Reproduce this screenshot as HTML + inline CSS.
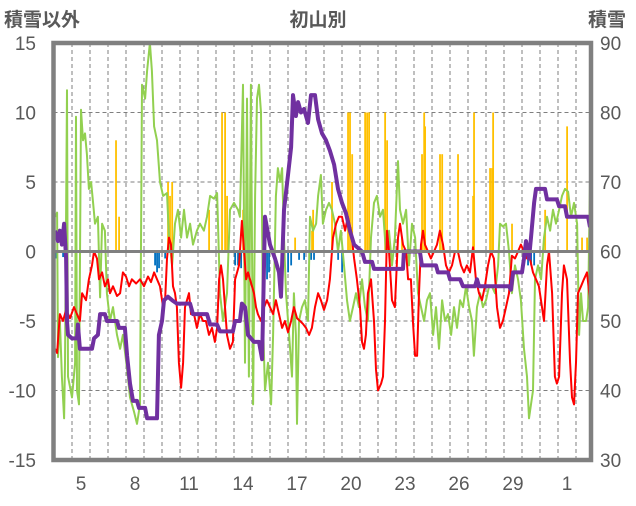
<!DOCTYPE html>
<html><head><meta charset="utf-8"><style>
html,body{margin:0;padding:0;background:#fff;}
svg text{font-family:"Liberation Sans","Noto Sans CJK JP",sans-serif;fill:#595959;}
</style></head><body>
<svg id="chart" width="636" height="501" viewBox="0 0 636 501" xmlns="http://www.w3.org/2000/svg">
<text x="4" y="26" font-size="19" font-weight="bold">積雪以外</text>
<text x="318" y="26" font-size="19" font-weight="bold" text-anchor="middle">初山別</text>
<text x="588" y="26" font-size="19" font-weight="bold">積雪</text>
<g id="grid"></g>
<g id="bars"></g>
<g id="lines"></g>
<g id="axes"></g>
</svg>
<script>
const leftTicks=[15,10,5,0,-5,-10,-15];
const rightTicks=[90,80,70,60,50,40,30];
const xTickDays=[5,8,11,14,17,20,23,26,29,32];
const xTickLabels=["5","8","11","14","17","20","23","26","29","1"];
const greenT=[4.06,4.17,4.22,4.33,4.44,4.56,4.61,4.72,4.78,5.0,5.17,5.22,5.28,5.39,5.5,5.61,5.72,5.83,5.94,6.06,6.17,6.28,6.44,6.56,6.67,6.83,6.94,7.11,7.28,7.5,7.67,7.83,8.06,8.22,8.44,8.61,8.78,8.89,9.06,9.17,9.33,9.44,9.56,9.72,9.89,10.06,10.28,10.39,10.56,10.72,10.89,11.06,11.22,11.39,11.56,11.72,11.94,12.11,12.33,12.5,12.67,12.89,13.06,13.22,13.39,13.61,13.78,14.0,14.22,14.33,14.5,14.61,14.72,14.83,14.94,15.06,15.17,15.28,15.39,15.5,15.61,15.72,15.89,16.06,16.17,16.33,16.44,16.56,16.67,16.78,16.89,17.06,17.22,17.33,17.44,17.5,17.61,17.78,17.94,18.11,18.22,18.39,18.56,18.67,18.83,18.94,19.11,19.28,19.44,19.61,19.78,19.94,20.11,20.28,20.44,20.61,20.78,20.94,21.11,21.28,21.44,21.61,21.78,21.94,22.11,22.28,22.44,22.61,22.78,22.94,23.11,23.22,23.39,23.56,23.72,23.89,24.06,24.22,24.39,24.56,24.72,24.89,25.06,25.22,25.39,25.56,25.72,25.89,26.06,26.22,26.39,26.56,26.72,26.89,27.06,27.22,27.33,27.5,27.67,27.83,28.0,28.17,28.33,28.5,28.67,28.78,28.94,29.11,29.28,29.44,29.61,29.78,29.94,30.11,30.28,30.39,30.5,30.61,30.72,30.89,31.06,31.22,31.39,31.56,31.72,31.89,32.06,32.22,32.39,32.56,32.72,32.89,33.06,33.17,33.28,33.39,33.56,33.67,33.78];
const greenV=[2.5,2.8,-7.6,-5,-9,-12,-8,11.6,-9,-10.5,-8,9.7,-10,-11,10.2,8,8.5,7,4.5,5,3.5,2,2.5,-3.3,2,1.5,-3,-5,-4,-6,-7,-6,-8.5,-10.5,-11.5,-12.4,-11,12,11,13,15,13,9,8,5,4,4.2,1,-1,2,3,1,3,1,2,0.5,1.5,2,1.5,2.5,4,3.8,4.2,-3,-5,-3,3,3.5,3,2.5,12,-8,11,-9,12,-11,4,11,12,10,-5,-10,-8,-11,-6,4,6,5,6,1,-3,-6,-9,-3,-6,-12.4,-5,-4,-3.5,-5,2.5,1.5,2,4,5.5,2,3,3.5,3,2,0,1.5,-1,-3.5,-5,-4,-3,-4,-2,-4,-5,1,3.5,4,2.5,3,0,1.5,-1,1,6.5,3,2,3,-1,2,1,-3,-4,-5,-3.5,-3,-6,-4,-7,-3.5,-5,-4.5,-6,-4,-5.5,-3.5,-4,-2.5,-4,-5,-7.5,-4,-3,-4,-3.5,-2.5,-2.5,-3,-1,2,1.8,2,0,-3,-1,-2,-3.5,-7,-9,-12,-11,-10,-2,-1,-2,1,2.5,1.5,3,2,3,4,4.5,4.3,2.5,3.5,2,-6,-3,-5,-5,-4,5];
const redT=[4.06,4.17,4.33,4.5,4.67,4.89,5.11,5.28,5.44,5.56,5.78,5.94,6.11,6.22,6.39,6.5,6.67,6.83,7.0,7.11,7.28,7.5,7.67,7.83,8.0,8.17,8.33,8.56,8.78,9.0,9.22,9.39,9.56,9.72,9.89,10.06,10.17,10.28,10.39,10.5,10.61,10.72,10.83,10.94,11.06,11.17,11.28,11.39,11.5,11.61,11.78,11.94,12.11,12.28,12.44,12.61,12.78,12.94,13.06,13.17,13.28,13.39,13.5,13.61,13.78,13.94,14.06,14.17,14.28,14.44,14.56,14.67,14.78,14.89,15.0,15.11,15.22,15.33,15.5,15.67,15.83,16.0,16.17,16.33,16.5,16.67,16.83,17.0,17.17,17.33,17.5,17.67,17.83,18.0,18.17,18.33,18.5,18.67,18.83,19.0,19.17,19.33,19.5,19.67,19.83,20.0,20.17,20.33,20.5,20.67,20.83,21.0,21.11,21.22,21.33,21.44,21.61,21.78,21.89,22.0,22.17,22.28,22.39,22.5,22.61,22.78,22.94,23.11,23.22,23.39,23.56,23.67,23.83,23.94,24.06,24.17,24.28,24.39,24.5,24.61,24.78,24.94,25.11,25.28,25.44,25.61,25.78,25.94,26.11,26.28,26.44,26.61,26.78,26.94,27.11,27.28,27.44,27.61,27.78,27.94,28.11,28.28,28.44,28.61,28.78,28.94,29.11,29.28,29.44,29.61,29.78,29.94,30.11,30.28,30.44,30.61,30.78,30.94,31.11,31.22,31.39,31.5,31.67,31.83,31.94,32.06,32.22,32.33,32.5,32.67,32.78,32.89,33.0,33.11,33.28,33.44,33.61,33.78];
const redV=[-7,-7.3,-4.5,-5,-4.2,-4.8,-4,-4.5,-5,-3,-3.5,-2,-1,0,-0.5,-2,-1.5,-2.5,-2,-3,-2.5,-3.2,-3,-1.5,-1.8,-2.5,-2,-2.3,-2,-2.5,-1.8,-2.2,-1.5,-2,-2.5,-4,-3.5,-0.5,1,0.5,-2.5,-3,-4,-8,-9.8,-8,-4,-3.5,-3,-4.5,-4.5,-5.5,-4.5,-5,-5,-6,-5.5,-6.5,-5.5,-2,-1,-2,-4,-6,-7,-6.5,-2,-1.5,-1,2.2,0,-2,-1.5,-2,-2.5,-3,-4,-4.5,-5,-4,-3.5,-4,-4.5,-3.5,-4.5,-5.5,-5,-5.8,-5,-4,-4.8,-5,-5.2,-5.5,-6,-5.5,-4,-3,-3.5,-4.2,-3.5,-2,1,2,2.5,2.5,1.5,2.5,1.5,-0.5,-2,-4,-6.5,-7,-6,-3,-2,-5,-8.5,-10,-9.5,-9,-5,1.5,0,-3.5,-4,1,2,0.5,0,-2,-2,-5,-7.5,-7.5,-3,0.5,1.5,0.5,0,-0.5,0,0.5,1.5,0.5,-1,-1.5,-1,0,0,-1,-1.5,-1,-1.5,0.3,-2,-3,-3.5,-2.5,-1,0,-0.5,-4,-5.5,-5,-4,-3,-0.3,-0.5,0,0.5,0,-0.5,-0.5,-1.5,-2,-2.5,-4,-5,-1,0,-3,-9,-9.5,-9,-3,-1,-2,-8,-10.5,-11,-8,-3,-2.5,-2,-1.5,-3.5];
const snowT=[4.06,4.22,4.33,4.44,4.56,4.67,4.72,4.78,5.0,5.28,5.33,5.44,6.11,6.22,6.44,6.56,6.83,6.94,7.5,7.61,7.94,8.06,8.22,8.39,8.61,8.72,9.06,9.17,9.72,9.83,10.0,10.11,10.33,10.56,10.83,11.56,11.72,12.5,12.67,13.06,13.22,13.94,14.06,14.33,14.44,14.61,14.78,15.11,15.39,15.56,15.72,16.0,16.28,16.5,16.61,16.78,17.0,17.17,17.28,17.44,17.56,17.72,17.89,18.11,18.28,18.5,18.67,18.89,19.11,19.33,19.56,19.78,20.0,20.22,20.44,20.67,20.89,21.11,21.28,21.67,21.78,23.39,23.44,24.33,24.44,25.22,25.33,25.89,26.0,26.56,26.72,27.39,27.5,27.61,29.28,29.39,29.5,30.0,30.11,30.22,30.39,30.5,30.67,30.78,31.28,31.39,31.94,32.06,32.39,32.5,33.67,33.78];
const snowV=[63,61.5,63,61,64,59,50,48,47.5,47.5,49.5,46,46,47.5,48,51,51,50,50,49,49,45,41,38.5,38.5,37.5,37.5,36,36,48,50,53,53.5,53,52.5,52.5,51,51,49.5,49.5,48.5,48.5,50,50,52.5,52,48,47,47,44.5,65,61,59,57,53.5,66,71,75,82.5,79.5,81.5,80,80.5,78.5,82.5,82.5,79,77,76,74.5,72.5,69,67,65.5,63,61,60.5,60,58.5,58.5,57.5,57.5,60,60,58,58,57,57,56,56,55,55,56,55,55,54.5,57,57,59,61.5,59,62,67,69,69,67.5,67.5,66.5,66.5,65,65,63.5];
const orangeT=[7.44,7.61,10.33,10.44,10.56,12.61,13.33,13.5,13.61,14.5,17.39,18.33,18.39,19.44,20.33,20.44,20.56,21.28,21.39,21.5,22.39,22.5,23.33,24.44,24.56,24.61,25.44,25.56,26.44,27.28,27.33,28.22,28.33,28.39,29.44,31.28,32.5,33.33,33.61];
const orangeV=[8,2.5,5,4,5,3,10,10,4,3,1,1.5,3,5,10,10,7,10,10,10,10,8,1,7,10,9,7,7,7,4,10,6,6,10,2,3,9,1,1];
const blueT=[4.11,4.5,9.61,9.72,9.83,10.17,14.06,14.22,14.39,15.83,15.94,17.0,17.17,17.61,17.89,18.28,18.44,19.78,20.0,23.39,30.33,30.5,30.67];
const blueV=[-0.5,-0.4,-1,-1.5,-1.2,-0.5,-1,-1,-1.2,-2,-1.5,-1.5,-1,-0.6,-0.6,-0.6,-0.6,-0.6,-1.5,-1,-1,-1,-1];

const NS="http://www.w3.org/2000/svg";
const PL=53.5,PR=591,PT=43,PB=460;
const xs=d=>18*(d-1);
const yl=v=>PT+(15-v)/30*(PB-PT);
const yr=v=>PT+(90-v)/60*(PB-PT);
function mk(tag,attrs,parent){const e=document.createElementNS(NS,tag);for(const k in attrs)e.setAttribute(k,attrs[k]);parent.appendChild(e);return e;}
const grid=document.getElementById('grid'),bars=document.getElementById('bars'),lines=document.getElementById('lines'),axes=document.getElementById('axes');
for(const v of leftTicks){if(v===15||v===-15||v===0)continue;
 const g=mk('line',{x1:PL,x2:PR,y1:yl(v),y2:yl(v),stroke:'#7f7f7f','stroke-width':1,'stroke-dasharray':'4,3'},grid);
 
 }
for(let d=5;d<=33;d++){
 const g=mk('line',{x1:xs(d),x2:xs(d),y1:PT,y2:PB,stroke:'#7f7f7f','stroke-width':1,'stroke-dasharray':'4,3'},grid);
 
 }
function drawBars(T,V,color,name){for(let i=0;i<T.length;i++){const y0=yl(0),y1=yl(V[i]);
 const r=mk('rect',{x:xs(T[i])-0.8,y:Math.min(y0,y1),width:1.8,height:Math.abs(y1-y0),fill:color},bars);
 
 }}
drawBars(orangeT,orangeV,'#ffc000','orange-bar');
drawBars(blueT,blueV,'#0070c0','blue-bar');
function drawLine(T,V,yf,color,w,name){const pts=T.map((t,i)=>xs(t).toFixed(1)+','+yf(V[i]).toFixed(1)).join(' ');
 const p=mk('polyline',{points:pts,fill:'none',stroke:color,'stroke-width':w,'stroke-linejoin':'round'},lines);
 
 }
drawLine(greenT,greenV,yl,'#92d050',2,'green-series-line');
drawLine(redT,redV,yl,'#ff0000',2,'red-series-line');
const zl=mk('line',{x1:PL,x2:PR,y1:yl(0),y2:yl(0),stroke:'#808080','stroke-width':3},axes);


drawLine(snowT,snowV,yr,'#7030a0',4,'snow-depth-line');
const fr=mk('rect',{x:PL,y:PT,width:PR-PL,height:PB-PT,fill:'none',stroke:'#808080','stroke-width':4.5},axes);


leftTicks.forEach(v=>{const t=mk('text',{x:36,y:yl(v)+7,'font-size':19,'text-anchor':'end'},axes);t.textContent=v;
 
 });
rightTicks.forEach(v=>{const t=mk('text',{x:600,y:yr(v)+7,'font-size':19},axes);t.textContent=v;
 
 });
xTickDays.forEach((d,i)=>{const t=mk('text',{x:xs(d+0.5),y:490,'font-size':19,'text-anchor':'middle'},axes);t.textContent=xTickLabels[i];
 
 });
</script>
</body></html>
